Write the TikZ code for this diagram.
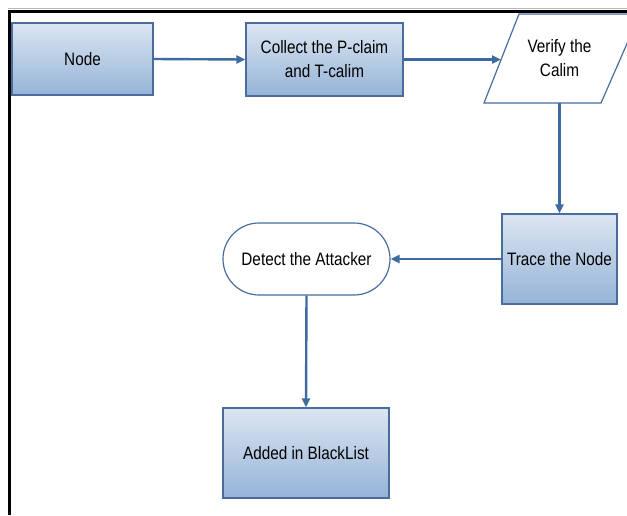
\documentclass[tikz,border=0pt]{standalone}
\usepackage{fontspec}
\setmainfont[FakeStretch=0.85]{Liberation Sans}
\usetikzlibrary{arrows.meta,shapes.misc}
\definecolor{edgeblue}{HTML}{4A6D9C}
\definecolor{flowblue}{HTML}{3D6AA0}
\definecolor{filltop}{HTML}{DCE6F2}
\definecolor{fillbot}{HTML}{95B3D7}
\tikzset{
  procbox/.style={draw=edgeblue, line width=1.2pt, top color=filltop, bottom color=fillbot,
    align=center, inner sep=0pt, font=\fontsize{18}{24}\selectfont},
  termbox/.style={draw=edgeblue, line width=1.2pt, fill=white, rounded rectangle,
    align=center, inner sep=0pt, font=\fontsize{18}{24}\selectfont},
  flow/.style={draw=flowblue, line width=2.4pt, -{Triangle[length=9pt,width=8pt]}},
}
\begin{document}
\begin{tikzpicture}[x=1pt,y=-1pt]
\useasboundingbox (0,0) rectangle (627,515);
% page frame
\draw[gray!55, line width=0.8pt] (8,8.5) -- (627,8.5);
\draw[black, line width=2.8pt] (9.5,11.5) -- (627,11.5);
\draw[black, line width=2.6pt] (9.5,10.2) -- (9.5,515);

% process steps
\node[procbox, minimum width=141pt, minimum height=72pt] (node) at (82.5,59) {Node};
\node[procbox, minimum width=157pt, minimum height=73pt] (collect) at (324.5,59.5) {Collect the P-claim\\and T-calim};
\node[procbox, minimum width=115pt, minimum height=90pt] (trace) at (559.5,259) {Trace the Node};
\node[termbox, minimum width=167pt, minimum height=72pt] (detect) at (306.5,259) {Detect the Attacker};
\node[procbox, minimum width=166pt, minimum height=90pt] (added) at (306,453) {Added in BlackList};

% data step (parallelogram)
\draw[edgeblue, line width=1.2pt, fill=white] (484,103) -- (519,14) -- (640,14) -- (601,103) -- cycle;
\node[align=center, inner sep=0pt, minimum height=89pt, font=\fontsize{18}{24}\selectfont] (verify) at (559.5,58.5) {Verify the\\Calim};
\coordinate (verifyin) at (501,59.5);

% connectors
\draw[flow] (node.east) -- (collect.west);
\draw[flow] (collect.east) -- (verifyin);
\draw[flow] (verify.south) -- (trace.north);
\draw[flow] (trace.west) -- (detect.east);
\draw[flow] (detect.south) -- (added.north);
\end{tikzpicture}
\end{document}
